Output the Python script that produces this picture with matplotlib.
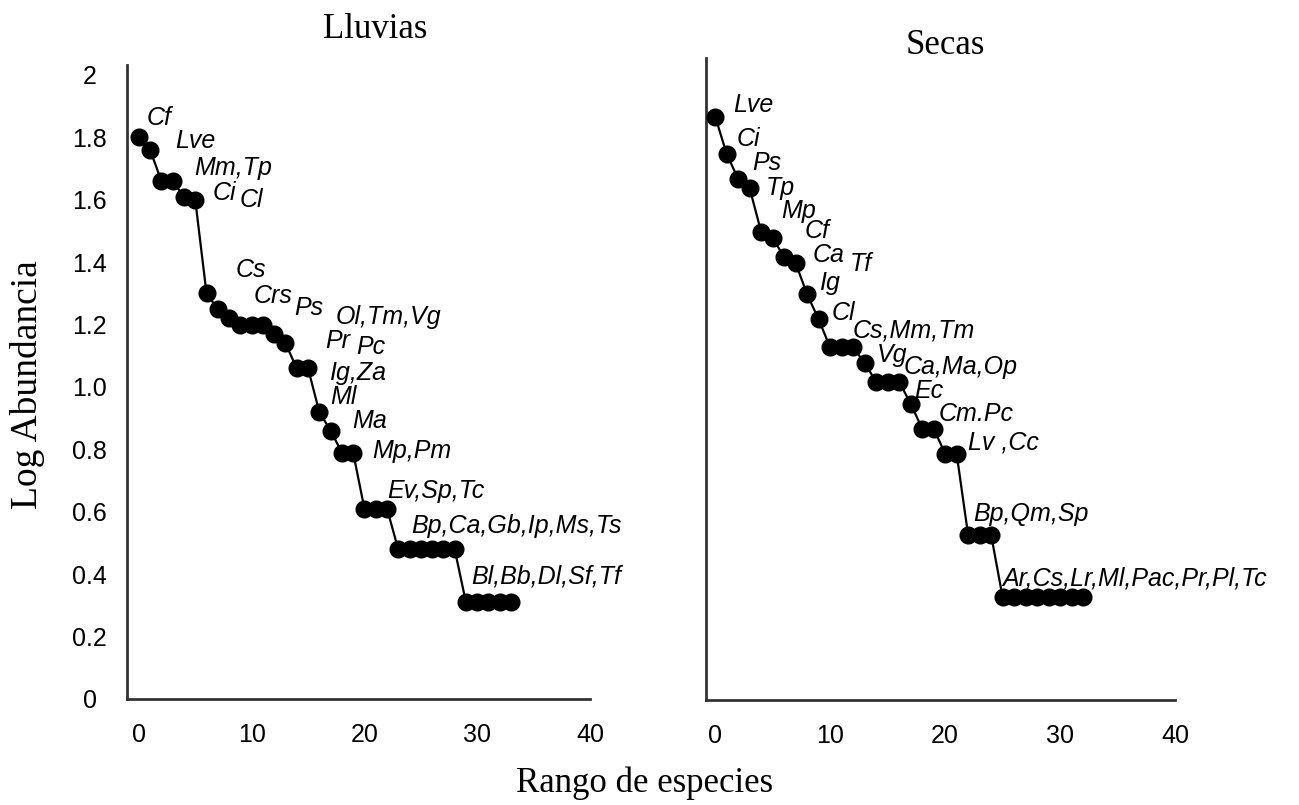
import matplotlib
matplotlib.use("Agg")
import matplotlib.pyplot as plt

# ---------------- data ----------------
lluvias_log_abund = [1.80, 1.76, 1.66, 1.66, 1.61, 1.60, 1.30, 1.25, 1.22,
                     1.20, 1.20, 1.20, 1.17, 1.14, 1.06, 1.06, 0.92, 0.86,
                     0.79, 0.79, 0.61, 0.61, 0.61, 0.48, 0.48, 0.48, 0.48,
                     0.48, 0.48, 0.31, 0.31, 0.31, 0.31, 0.31]
lluvias_labels = ["Cf", "Lve", "Mm,Tp", "Ci", "Cl", "Cs", "Crs", "Ps",
                  "Ol,Tm,Vg", "Pr", "Pc", "Ig,Za", "Ml", "Ma", "Mp,Pm",
                  "Ev,Sp,Tc", "Bp,Ca,Gb,Ip,Ms,Ts", "Bl,Bb,Dl,Sf,Tf"]
lluvias_label_rank = [0, 1, 2, 4, 5, 6, 7, 8, 9, 12, 13, 14, 16, 17, 18, 20, 23, 29]

secas_log_abund = [1.87, 1.75, 1.67, 1.64, 1.50, 1.48, 1.42, 1.40, 1.30,
                   1.22, 1.13, 1.13, 1.13, 1.08, 1.02, 1.02, 1.02, 0.95,
                   0.87, 0.87, 0.79, 0.79, 0.53, 0.53, 0.53, 0.33, 0.33,
                   0.33, 0.33, 0.33, 0.33, 0.33, 0.33]
secas_labels = ["Lve", "Ci", "Ps", "Tp", "Mp", "Cf", "Ca", "Tf", "Ig", "Cl",
                "Cs,Mm,Tm", "Vg", "Ca,Ma,Op", "Ec", "Cm.Pc", "Lv ,Cc",
                "Bp,Qm,Sp", "Ar,Cs,Lr,Ml,Pac,Pr,Pl,Tc"]
secas_label_rank = [0, 1, 2, 3, 4, 5, 6, 7, 8, 9, 10, 13, 14, 17, 18, 20, 22, 25]

x_ticks = [0, 10, 20, 30, 40]
y_ticks = [0, 0.2, 0.4, 0.6, 0.8, 1.0, 1.2, 1.4, 1.6, 1.8, 2.0]
y_ticklabels = ["0", "0.2", "0.4", "0.6", "0.8", "1.0", "1.2", "1.4", "1.6", "1.8", "2"]

# label offsets in pixels (dx right, dy up) relative to the anchor point
lluvias_offsets = [(8, 19), (25, 9), (33, 13), (29, 4), (44, 0), (29, 23), (36, 13),
                   (65, 10), (95, 8), (51, -7), (71, -4), (32, -5), (11, 15),
                   (22, 10), (30, 2), (23, 18), (13, 23), (5, 26)]
secas_offsets = [(18, 12), (10, 15), (14, 16), (16, 0), (20, 21), (32, 7), (28, 2),
                 (54, -1), (12, 11), (13, 6), (22, 17), (12, 8), (27, 15), (4, 13),
                 (17, 15), (23, 11), (5, 21), (0, 19)]

# ---------------- figure ----------------
W, H = 1299, 805
fig = plt.figure(figsize=(W / 100, H / 100), dpi=100)

sans = "Liberation Sans"
serif = "Liberation Serif"
spine_col = "#333333"

def make_axes(rect, xlim, ylim, values, labels, ranks, offsets, show_y):
    ax = fig.add_axes(rect)
    x = list(range(len(values)))
    ax.plot(x, values, color="black", lw=1.6, marker="o", ms=12,
            markerfacecolor="black", markeredgecolor="black", zorder=3)
    ax.set_xlim(*xlim)
    ax.set_ylim(*ylim)
    for s in ("top", "right"):
        ax.spines[s].set_visible(False)
    for s in ("left", "bottom"):
        ax.spines[s].set_color(spine_col)
        ax.spines[s].set_linewidth(2.0)
    ax.set_xticks(x_ticks)
    ax.set_xticklabels([str(t) for t in x_ticks], fontsize=18, family=sans)
    ax.tick_params(axis="x", length=0, pad=17)
    if show_y:
        ax.set_yticks(y_ticks)
        ax.set_yticklabels(y_ticklabels, fontsize=18, family=sans)
        ax.tick_params(axis="y", length=0, pad=27)
        for lab in ax.get_yticklabels():
            lab.set_horizontalalignment("center")
    else:
        ax.set_yticks([])
    for lab, r, (dx, dy) in zip(labels, ranks, offsets):
        ax.annotate(lab, xy=(x[r], values[r]), xytext=(dx, dy),
                    textcoords="offset pixels", ha="left", va="center",
                    fontsize=18, family=sans, style="italic")
    return ax

# left panel: axis x 127..590 px, y 65..699 px
ax1 = make_axes([127 / W, 1 - 699 / H, (590 - 127) / W, (699 - 65) / H],
                (-1.05, 40), (0, (699 - 65) / 312),
                lluvias_log_abund, lluvias_labels, lluvias_label_rank,
                lluvias_offsets, True)
# right panel: axis x 706..1175 px, y 58..700 px
ax2 = make_axes([706 / W, 1 - 700 / H, (1175 - 706) / W, (700 - 58) / H],
                (-0.8, 40), (0, (700 - 58) / 312),
                secas_log_abund, secas_labels, secas_label_rank,
                secas_offsets, False)

fig.text(375 / W, 1 - 30 / H, "Lluvias", ha="center", va="center",
         fontsize=25, family=serif)
fig.text(945 / W, 1 - 45 / H, "Secas", ha="center", va="center",
         fontsize=25, family=serif)
fig.text(28 / W, 1 - 385 / H, "Log Abundancia", ha="center", va="center",
         rotation=90, fontsize=27, family=serif)
fig.text(645 / W, 1 - 783 / H, "Rango de especies", ha="center", va="center",
         fontsize=25, family=serif)

fig.savefig("out.png", dpi=100)
